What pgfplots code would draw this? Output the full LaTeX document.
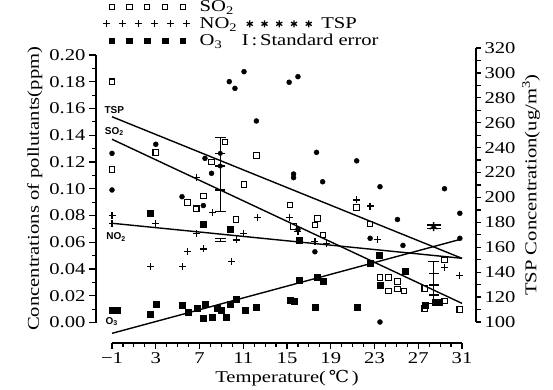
\documentclass[border=0pt]{standalone}
\usepackage{fontspec}
\setmainfont{Liberation Serif}[FakeStretch=1.25]
\newfontfamily\dvs{DejaVu Serif}[FakeStretch=1.1]
\newfontfamily\lblfont{Liberation Sans}
\usepackage{pgfplots}
\pgfplotsset{compat=1.18}
\pgfplotsset{
  base/.style={scale only axis, clip=false, anchor=south west,
    /pgf/number format/assume math mode=true,
    tick label style={font=\fontsize{16.5}{19}\selectfont},
    label style={font=\fontsize{16.5}{19}\selectfont},
    axis line style={line width=1.4pt},
    every tick/.style={line width=1.2pt, black}},
  sebar/.style={line width=1.4pt, mark=-, mark size=5.5pt, mark options={line width=1.4pt}},
}
\begin{document}
\begin{tikzpicture}[font=\fontsize{16.5}{19}\selectfont]
\useasboundingbox (0,0) rectangle (553pt,389pt);

% ---- left data axis (SO2, NO2, O3) ----
\begin{axis}[base, at={(112pt,66.5pt)}, width=350pt, height=267.5pt,
  xmin=-1, xmax=31, ymin=0, ymax=0.2, hide axis,
  legend columns=2, legend cell align=left,
  legend style={at={(-0.0257,1.2056)}, anchor=north west, draw=none, fill=none,
    inner sep=0pt, /tikz/column sep=9pt, /tikz/row sep=3.5pt,
    font=\fontsize{16.5}{19}\selectfont, nodes={inner sep=0.5pt}}]
\addlegendimage{legend image code/.code={\draw[only marks, mark=square, mark size=2.6pt, line width=1pt] plot coordinates {(0pt,0pt) (17.75pt,0pt) (35.5pt,0pt) (53.25pt,0pt) (71pt,0pt)};}}
\addlegendentry{SO\textsubscript{2}}
\addlegendimage{empty legend}
\addlegendentry{}
\addlegendimage{legend image code/.code={\draw[only marks, mark=+, mark size=3.5pt, line width=1pt] plot coordinates {(-5pt,0pt) (11pt,0pt) (27pt,0pt) (43pt,0pt) (59pt,0pt) (75pt,0pt)};}}
\addlegendentry{NO\textsubscript{2}}
\addlegendimage{legend image code/.code={\draw[only marks, mark=asterisk, mark size=3.5pt, line width=1.3pt] plot coordinates {(0pt,0pt) (14.75pt,0pt) (29.5pt,0pt) (44.25pt,0pt) (59pt,0pt)};}}
\addlegendentry{TSP}
\addlegendimage{legend image code/.code={\draw[only marks, mark=square*, mark size=2.8pt] plot coordinates {(0pt,0pt) (17.75pt,0pt) (35.5pt,0pt) (53.25pt,0pt) (71pt,0pt)};}}
\addlegendentry{O\textsubscript{3}}
\addlegendimage{legend image code/.code={\node[overlay, anchor=west, inner sep=0pt] at (-8pt,0pt) {I\,:\,Standard error};}}
\addlegendentry{}

% SO2
\addplot[forget plot, only marks, mark=square, mark size=2.8pt, line width=1.1pt] coordinates {
(-1,0.180) (-1,0.1145) (3,0.127) (5.92,0.0896) (6.7,0.0850) (7.35,0.0946) (8.1,0.120)
(9.33,0.135) (10.33,0.077) (11.07,0.1033) (12.2,0.125) (15.27,0.0879) (15.6,0.0716)
(17.55,0.0729) (17.77,0.0779) (18.3,0.0654) (21.37,0.0858) (22.6,0.0736) (23.5,0.0335)
(24.26,0.0335) (24.26,0.0236) (25.1,0.025) (25.1,0.0305) (25.7,0.0236) (27.6,0.0256)
(27.6,0.0106) (29.4,0.0467) (29.4,0.016) (30.8,0.0099)};
% NO2
\addplot[forget plot, only marks, mark=+, mark size=3.5pt, line width=1.3pt] coordinates {
(-1,0.080) (-1,0.074) (3,0.074) (2.5,0.042) (5.46,0.042) (5.9,0.053) (7.35,0.055)
(6.75,0.0667) (6.7,0.1086) (8.2,0.082) (9.94,0.0455) (10.4,0.0617) (11.0,0.0667)
(12.3,0.0787) (15.2,0.0787) (16.0,0.068) (17.55,0.0604) (18.6,0.059) (21.37,0.0916)
(22.6,0.087) (23.3,0.062) (29.4,0.041) (30.8,0.035)};
% O3
\addplot[forget plot, only marks, mark=square*, mark size=3pt] coordinates {
(-1,0.009) (-0.55,0.009) (2.5,0.006) (3.0,0.0136) (2.5,0.082) (5.4,0.013) (6.0,0.008)
(6.8,0.011) (7.5,0.0134) (7.35,0.003) (8.14,0.0037) (8.6,0.0106) (9.0,0.0095) (9.4,0.004)
(9.85,0.0137) (10.33,0.0175) (11.16,0.0093) (12.2,0.0112) (7.35,0.0737) (9.85,0.0697)
(15.27,0.017) (15.7,0.0163) (16.1,0.032) (16.1,0.0617) (17.55,0.0118) (17.8,0.0335)
(18.3,0.031) (21.46,0.0112) (22.6,0.0443) (23.4,0.050) (23.5,0.028) (25.8,0.038)
(27.6,0.013) (28.55,0.0155) (28.95,0.0155)};
% regression lines
\addplot[forget plot, line width=1.4pt] coordinates {(-1,0.137) (31,0.0143)};
\addplot[forget plot, line width=1.4pt] coordinates {(-1,0.0742) (31,0.048)};
\addplot[forget plot, line width=1.4pt] coordinates {(-1,-0.0081) (31,0.0625)};
% standard error bars (bar with caps)
\addplot[forget plot, sebar] coordinates {(8.9,0.083) (8.9,0.1385)};
\addplot[forget plot, sebar] coordinates {(28.4,0.0144) (28.4,0.0455)};
\addplot[forget plot, sebar] coordinates {(8.9,0.0605) (8.9,0.0629)};
\addplot[forget plot, only marks, mark=-, mark size=5pt, line width=1.3pt] coordinates {
(8.9,0.1265) (8.9,0.117) (8.9,0.099) (28.4,0.0368) (28.4,0.028) (28.4,0.0206)};
\addplot[forget plot, only marks, mark=*, mark size=2.3pt] coordinates {(8.9,0.1265) (8.9,0.117)};
% line labels
\node[font=\lblfont\bfseries\fontsize{10}{11}\selectfont] at (axis cs:-0.79,0.1589) {TSP};
\node[font=\lblfont\bfseries\fontsize{10}{11}\selectfont] at (axis cs:-0.79,0.1427) {SO\textsubscript{2}};
\node[font=\lblfont\bfseries\fontsize{10}{11}\selectfont] at (axis cs:-0.63,0.0641) {NO\textsubscript{2}};
\node[font=\lblfont\bfseries\fontsize{10}{11}\selectfont] at (axis cs:-1.03,0.0006) {O\textsubscript{3}};
\end{axis}

% ---- right data axis (TSP) ----
\begin{axis}[base, at={(112pt,67pt)}, width=350pt, height=274pt,
  xmin=-1, xmax=31, ymin=100, ymax=320, hide axis]
\addplot[only marks, mark=*, mark size=2.5pt] coordinates {
(-1,235.4) (-1,206) (3,242.7) (5.4,200.6) (7.35,193.5) (7.5,231.4) (8.1,219.4)
(9.72,293) (10.24,287.6) (11.07,301) (12.2,261.4) (15.2,292.5) (16.0,297) (17.7,236.2)
(15.6,215.9) (15.6,218.8) (18.26,212.6) (16.0,174.3) (17.55,156.4) (21.37,229.4)
(23.5,208.6) (22.6,167.2) (25.1,182.3) (25.6,161.5) (23.5,100) (29.4,207) (30.8,187.3)
(30.8,167.2)};
\addplot[line width=1.4pt] coordinates {(-1,264.8) (31,151.1)};
\addplot[sebar, mark size=7pt] coordinates {(28.4,175) (28.4,178)};
\addplot[only marks, mark=asterisk, mark size=4.5pt, line width=1.4pt] coordinates {(28.4,176.5)};
\end{axis}

% ---- left y axis line ----
\begin{axis}[base, at={(96pt,66.5pt)}, width=50pt, height=267.5pt,
  xmin=0, xmax=1, ymin=0, ymax=0.2, axis x line=none, axis y line*=left,
  ytick={0,0.02,0.04,0.06,0.08,0.1,0.12,0.14,0.16,0.18,0.2},
  minor ytick={0.01,0.03,0.05,0.07,0.09,0.11,0.13,0.15,0.17,0.19},
  tick align=outside, major tick length=7pt, minor tick length=4pt,
  yticklabel style={/pgf/number format/.cd, fixed, fixed zerofill, precision=2},
  ylabel={Concentrations of pollutants(ppm)}]
\addplot[draw=none, forget plot] coordinates {(0,0)};
\end{axis}

% ---- x axis line ----
\begin{axis}[base, at={(112pt,46pt)}, width=350pt, height=20pt,
  xmin=-1, xmax=31, ymin=0, ymax=1, axis y line=none, axis x line*=bottom,
  xtick={-1,3,7,11,15,19,23,27,31}, xticklabels={−1,3,7,11,15,19,23,27,31},
  minor x tick num=3, tick align=outside, major tick length=6pt, minor tick length=4pt,
  xlabel={Temperature(\,{\dvs ℃}\,)}]
\addplot[draw=none, forget plot] coordinates {(0,0)};
\end{axis}

% ---- right y axis line ----
\begin{axis}[base, at={(376pt,67pt)}, width=100pt, height=274pt,
  xmin=0, xmax=1, ymin=100, ymax=320, axis x line=none, axis y line*=right,
  ytick={100,120,140,160,180,200,220,240,260,280,300,320}, minor y tick num=1,
  tick align=outside, major tick length=5pt, minor tick length=5pt,
  ylabel={TSP Concentration(ug/m\textsuperscript{3})}]
\addplot[draw=none, forget plot] coordinates {(0,0)};
\end{axis}
\end{tikzpicture}
\end{document}
